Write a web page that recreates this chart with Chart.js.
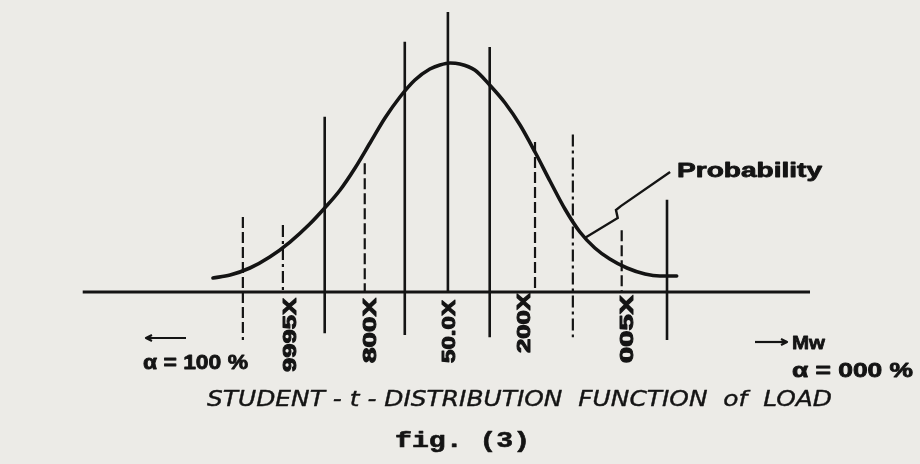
<!DOCTYPE html>
<html>
<head>
<meta charset="utf-8">
<script src="https://cdn.jsdelivr.net/npm/chart.js@4.4.1/dist/chart.umd.min.js"></script>
<style>
html,body{margin:0;padding:0;background:#ecebe7;}
#wrap{width:920px;height:464px;}
</style>
</head>
<body>
<div id="wrap"><canvas id="c" width="920" height="464"></canvas></div>
<script>
// courbe de densite (t de Student)
const curveX = [-5.34,-4.95,-4.50,-4.05,-3.59,-3.14,-2.80,-2.45,-2.11,-1.77,-1.43,-1.09,-0.75,-0.41,-0.18,0.05,
                0.27,0.61,0.95,1.30,1.64,1.98,2.32,2.66,3.00,3.34,3.68,4.07,4.48,4.82,5.20];
const curveY = [0.0245,0.0297,0.0419,0.0611,0.0873,0.1188,0.1467,0.1782,0.2166,0.2603,0.3039,0.3406,0.3703,0.3895,0.3965,0.400,
                0.3983,0.3878,0.3616,0.3301,0.2917,0.2445,0.1939,0.1450,0.1048,0.0769,0.0576,0.0419,0.0314,0.0279,0.0279];

// verticales (quantiles)
const lineX      = [-4.66,-3.75,-2.80,-1.89,-0.98,0.00,0.95,1.98,2.84,3.95,4.98];
const lineTop    = [0.131,0.117,0.306,0.225,0.437,0.489,0.428,0.262,0.275,0.108,0.161];
const lineBottom = [-0.084,0,-0.072,0,-0.075,0,-0.079,0,-0.079,0,-0.084];
const lineStyle  = ['dash','dashdot','solid','dash','solid','solid','solid','dash','dashdot','dash','solid'];

// axe horizontal
const axisX = [-8.30, 8.23];

// etiquettes sous l'axe
const tickLabels = ['9995X','800X','50.0X','200X','005X'];
const tickLabelX = [-3.57,-1.75,0.05,1.75,4.09];

// trait de renvoi vers "Probability"
const leaderX = [3.11,3.86,3.82,3.93,5.05];
const leaderY = [0.0943,0.1293,0.1432,0.150,0.2096];

const INK = '#141414';

const datasets = [];
datasets.push({
    data: axisX.map(x => ({x, y:0})),
    borderColor: INK, borderWidth: 3, pointRadius: 0, showLine: true
});
lineX.forEach((x,i) => {
    let dash = [];
    if(lineStyle[i]==='dash') dash = [11,4];
    if(lineStyle[i]==='dashdot') dash = [12,4,3,4];
    datasets.push({
        data: [{x, y:lineTop[i]}, {x, y:lineBottom[i]}],
        borderColor: INK,
        borderWidth: lineStyle[i]==='solid' ? 2.6 : 2.2,
        borderDash: dash,
        pointRadius: 0, showLine: true
    });
});
datasets.push({
    data: curveX.map((x,i) => ({x, y:curveY[i]})),
    borderColor: INK, borderWidth: 3.6, pointRadius: 0, showLine: true,
    cubicInterpolationMode: 'monotone', borderCapStyle: 'round'
});
datasets.push({
    data: leaderX.map((x,i) => ({x, y:leaderY[i]})),
    borderColor: INK, borderWidth: 2.4, pointRadius: 0, showLine: true, tension: 0
});

// texte ajuste a une largeur donnee (epaissi si heavy)
function fitText(ctx, txt, x, y, w, font, heavy){
    ctx.font = font;
    const m = ctx.measureText(txt).width;
    ctx.save();
    ctx.translate(x, y);
    ctx.scale(w/m, 1);
    ctx.fillText(txt, 0, 0);
    if(heavy){ ctx.lineWidth = heavy; ctx.strokeText(txt, 0, 0); }
    ctx.restore();
}

function arrow(ctx, x1, x2, y, headAt){
    ctx.beginPath();
    ctx.moveTo(x1, y); ctx.lineTo(x2, y);
    ctx.stroke();
    const hx = headAt==='left' ? x1 : x2;
    const d = headAt==='left' ? 6 : -6;
    ctx.beginPath();
    ctx.moveTo(hx+d, y-3); ctx.lineTo(hx, y); ctx.lineTo(hx+d, y+3);
    ctx.stroke();
}

const textPlugin = {
    id: 'texts',
    afterDraw(chart){
        const ctx = chart.ctx;
        const xs = chart.scales.x;
        ctx.save();
        ctx.fillStyle = INK;
        ctx.strokeStyle = INK;
        ctx.lineJoin = 'round';
        ctx.textBaseline = 'alphabetic';
        ctx.textAlign = 'left';

        // etiquettes verticales
        const spans = [[298,372],[298,363],[300,363],[293,353],[295,363]];
        tickLabels.forEach((t,i) => {
            const cx = xs.getPixelForValue(tickLabelX[i]);
            ctx.save();
            ctx.translate(cx, spans[i][1]);
            ctx.rotate(-Math.PI/2);
            ctx.textBaseline = 'middle';
            fitText(ctx, t, 0, 0, spans[i][1]-spans[i][0], 'bold 18px "Liberation Sans", Arial, sans-serif', 1);
            ctx.restore();
        });

        // Probability
        fitText(ctx, 'Probability', 677, 177, 145, 'bold 20px "Liberation Sans", Arial, sans-serif', 0.8);

        // extremites
        ctx.lineWidth = 2.2;
        arrow(ctx, 146, 186, 338, 'left');
        fitText(ctx, 'α = 100 %', 143, 369, 105, 'bold 20px "Liberation Sans", Arial, sans-serif', 0.8);
        ctx.lineWidth = 2.2;
        arrow(ctx, 755, 787, 342, 'right');
        fitText(ctx, 'Mw', 792, 349, 33, 'bold 19px "Liberation Sans", Arial, sans-serif', 0.8);
        fitText(ctx, 'α = 000 %', 792, 377, 121, 'bold 20px "Liberation Sans", Arial, sans-serif', 0.8);

        // titre
        fitText(ctx, 'STUDENT - t - DISTRIBUTION  FUNCTION  of  LOAD', 207, 406, 625, 'italic 22px "DejaVu Sans", sans-serif', 0.4);
        fitText(ctx, 'fig. (3)', 395, 447, 135, 'bold 22px "Liberation Mono", "Courier New", monospace', 0.6);
        ctx.restore();
    }
};

new Chart(document.getElementById('c').getContext('2d'), {
    type: 'scatter',
    data: { datasets },
    options: {
        responsive: false,
        animation: false,
        devicePixelRatio: 1,
        layout: { padding: 0 },
        plugins: { legend: {display:false}, tooltip: {enabled:false} },
        scales: {
            x: { type:'linear', display:false, min:-10.18, max:10.73 },
            y: { type:'linear', display:false, min:-0.3004, max:0.51 }
        }
    },
    plugins: [textPlugin]
});
</script>
</body>
</html>
